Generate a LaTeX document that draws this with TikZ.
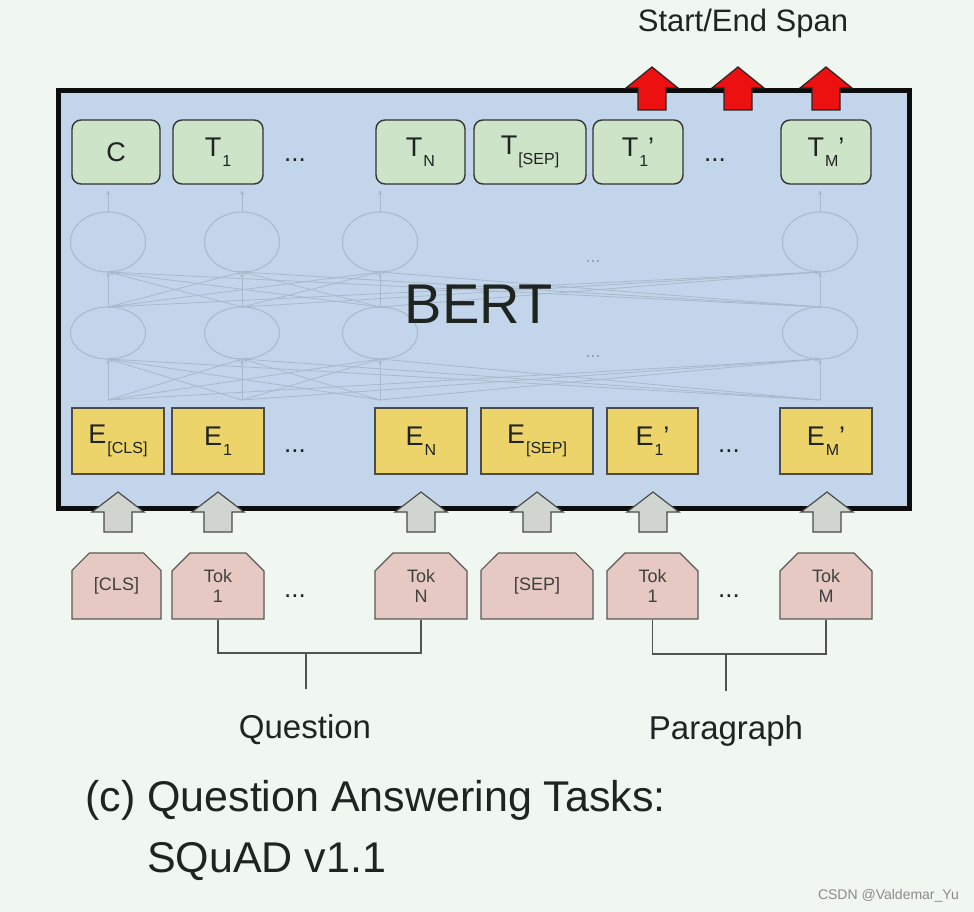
\documentclass[tikz,border=0pt]{standalone}
\usepackage{fontspec}
\setmainfont{Liberation Sans}
\usetikzlibrary{shapes.geometric,shapes.misc,arrows.meta}
\definecolor{bgc}{HTML}{F0F6F0}
\definecolor{bertc}{HTML}{C2D5EA}
\definecolor{greenc}{HTML}{CDE4C9}
\definecolor{yellowc}{HTML}{EDD46A}
\definecolor{pinkc}{HTML}{E6C9C3}
\definecolor{greyar}{HTML}{D0D5CF}
\definecolor{redar}{HTML}{EC1010}
\definecolor{netc}{HTML}{A8B9CB}
\definecolor{txtc}{HTML}{1E2420}
\definecolor{linec}{HTML}{505550}
\newcommand\fs[1]{\fontsize{#1}{#1}\selectfont}
\newcommand\lbl[3]{#1\hspace{1pt}\raisebox{-10pt}{\fs{16}#2}#3}
\tikzset{
  uparr/.pic={\path[pic actions] (0,0) -- (26,21) -- (14,21) -- (14,43) -- (-14,43) -- (-14,21) -- (-26,21) -- cycle;},
  downarr/.pic={\path[pic actions] (0,0) -- (26,20) -- (14,20) -- (14,40) -- (-14,40) -- (-14,20) -- (-26,20) -- cycle;},
  tbox/.style={draw=black!80, line width=1.4pt, fill=greenc, rounded corners=9pt, minimum height=64pt, inner sep=0pt, font=\fs{27}, text=txtc},
  ebox/.style={draw=black!70, line width=1.2pt, fill=yellowc, minimum height=66pt, inner sep=0pt, font=\fs{27}, text=txtc},
  tokbox/.style={chamfered rectangle, chamfered rectangle corners={north west,north east}, chamfered rectangle xsep=9pt, chamfered rectangle ysep=9pt, draw=black!65, line width=1.2pt, fill=pinkc, minimum height=66pt, inner sep=0pt, align=center, font=\fs{18}, text=black!75},
  neur/.style={ellipse, draw=netc, line width=1pt, inner sep=0pt, outer sep=0pt},
  netline/.style={draw=netc, line width=0.8pt, -{Stealth[length=5pt,width=4pt]}},
  brk/.style={draw=linec, line width=1.8pt},
  dots/.style={font=\fs{26}, text=txtc, anchor=base},
  fdots/.style={font=\fs{18}, text=netc!85!black, anchor=base},
}
\begin{document}
\begin{tikzpicture}[x=1pt,y=-1pt]
\fill[bgc] (0,0) rectangle (974,912);
\useasboundingbox (0,0) rectangle (974,912);

% BERT frame
\node[draw=black!95, line width=5pt, fill=bertc, minimum width=851pt, minimum height=417.5pt, inner sep=0pt] (bert) at (484,299.25) {};

% faint network
\foreach \i/\x in {1/108,2/242,3/380,4/820} {
  \node[neur, minimum width=75pt, minimum height=60pt] (u\i) at (\x,242) {};
  \node[neur, minimum width=75pt, minimum height=52pt] (l\i) at (\x,333) {};
  \coordinate (b\i) at (\x,400);
  \coordinate (t\i) at (\x,190);
}
\foreach \i in {1,...,4} {
  \foreach \j in {1,...,4} {
    \draw[netline] (b\i) -- (l\j.south);
    \draw[netline] (l\i.north) -- (u\j.south);
  }
  \draw[netline] (u\i.north) -- (t\i);
}
\node[fdots] (fd1) at (593,262) {...};
\node[fdots] (fd2) at (593,357) {...};

\node[font=\fs{56}, text=txtc, anchor=base] (berttxt) at (479,323) {BERT};

% output row
\node[tbox, minimum width=88pt] (C) at (116,152) {C};
\node[tbox, minimum width=90pt] (T1) at (218,152) {\lbl{T}{1}{}};
\node[dots] (d1) at (295,162) {...};
\node[tbox, minimum width=89pt] (TN) at (420.5,152) {\lbl{T}{N}{}};
\node[tbox, minimum width=112pt] (TSEP) at (530,152) {\lbl{T}{[SEP]}{}};
\node[tbox, minimum width=90pt] (T1p) at (638,152) {\lbl{T}{1}{’}};
\node[dots] (d2) at (715,162) {...};
\node[tbox, minimum width=90pt] (TMp) at (826,152) {\lbl{T}{M}{’}};

% embedding row
\node[ebox, minimum width=92pt] (ECLS) at (118,441) {\lbl{E}{[CLS]}{}};
\node[ebox, minimum width=92pt] (E1) at (218,441) {\lbl{E}{1}{}};
\node[dots] (d3) at (295,452) {...};
\node[ebox, minimum width=92pt] (EN) at (421,441) {\lbl{E}{N}{}};
\node[ebox, minimum width=112pt] (ESEP) at (537,441) {\lbl{E}{[SEP]}{}};
\node[ebox, minimum width=91pt] (E1p) at (652.5,441) {\lbl{E}{1}{’}};
\node[dots] (d4) at (729,452) {...};
\node[ebox, minimum width=92pt] (EMp) at (826,441) {\lbl{E}{M}{’}};

% red arrows
\foreach \x in {652,738,826}
  \pic[fill=redar, draw=black!85, line width=1.2pt] at (\x,67) {uparr};
\node[font=\fs{31}, text=txtc, anchor=base] (span) at (743,32) {Start/End Span};

% grey arrows
\foreach \x in {118,218,421,537,653,827}
  \pic[fill=greyar, draw=black!70, line width=1.2pt] at (\x,492) {downarr};

% token row
\node[tokbox, minimum width=89pt] (CLS) at (116.5,586) {[CLS]};
\node[tokbox, minimum width=92pt] (Tok1) at (218,586) {Tok\\[2pt]1};
\node[dots] (d5) at (295,597) {...};
\node[tokbox, minimum width=92pt] (TokN) at (421,586) {Tok\\[2pt]N};
\node[tokbox, minimum width=112pt] (SEP) at (537,586) {[SEP]};
\node[tokbox, minimum width=91pt] (Tok1p) at (652.5,586) {Tok\\[2pt]1};
\node[dots] (d6) at (729,597) {...};
\node[tokbox, minimum width=92pt] (TokM) at (826,586) {Tok\\[2pt]M};

% brackets
\coordinate (qj) at (306,653);
\coordinate (qe) at (306,689);
\coordinate (pj) at (726,654);
\coordinate (pe) at (726,691);
\draw[brk] (Tok1.south) |- (qj) -| (TokN.south);
\draw[brk] (qj) -- (qe);
\draw[brk] (Tok1p.south) |- (pj) -| (TokM.south);
\draw[brk] (pj) -- (pe);
\node[font=\fs{33}, text=txtc, anchor=base] (quest) at (305,738) {Question};
\node[font=\fs{33}, text=txtc, anchor=base] (para) at (726,739) {Paragraph};

% caption
\node[font=\fs{43}, text=txtc, anchor=base west, inner sep=0pt] (cap1) at (85,811) {(c) Question Answering Tasks:};
\node[font=\fs{43}, text=txtc, anchor=base west, inner sep=0pt] (cap2) at (147,872) {SQuAD v1.1};

\node[font=\fs{14}, text=black!45, anchor=base east, inner sep=0pt] (wm) at (959,899) {CSDN @Valdemar\_Yu};
\end{tikzpicture}
\end{document}
